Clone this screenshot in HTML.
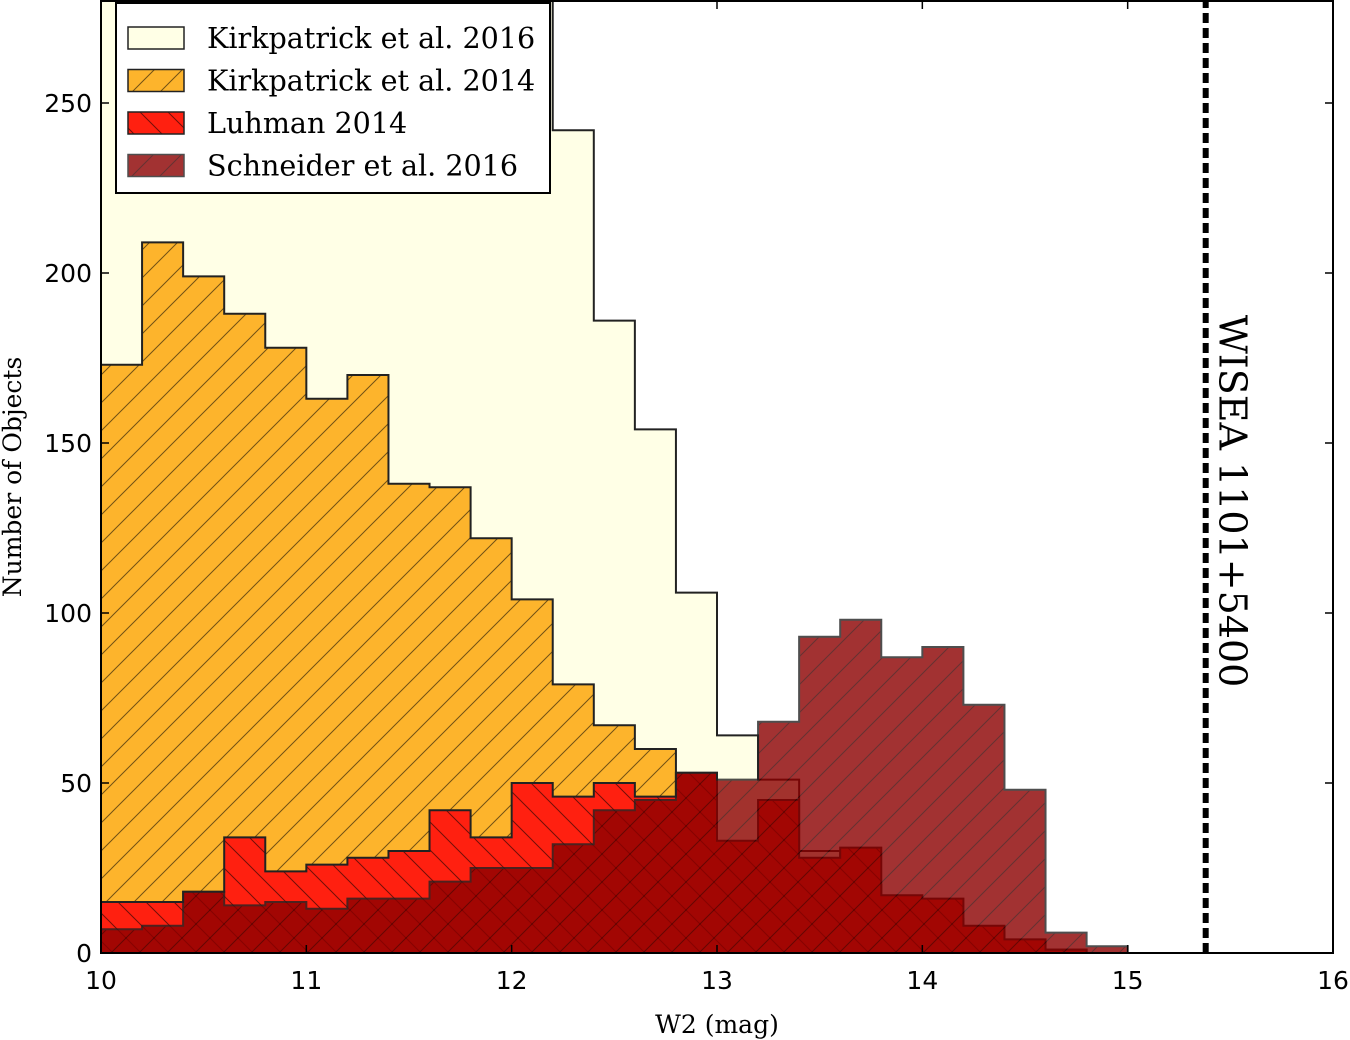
<!DOCTYPE html>
<html><head><meta charset="utf-8"><style>
html,body{margin:0;padding:0;background:#fff;}
svg{display:block;}
.tick{font-family:"DejaVu Sans","Liberation Sans",sans-serif;font-size:25px;fill:#000;}
.lab{font-family:"DejaVu Serif","Liberation Serif",serif;font-size:25px;fill:#000;}
</style></head><body>
<svg id="chart" width="1350" height="1040" xmlns="http://www.w3.org/2000/svg">
<defs>
<pattern id="hf" patternUnits="userSpaceOnUse" width="28" height="28"><path d="M-7,7 L7,-7 M0,28 L28,0 M21,35 L35,21" stroke="#000" stroke-opacity="0.55" stroke-width="1"/></pattern>
<pattern id="hb" patternUnits="userSpaceOnUse" width="28" height="28"><path d="M-7,21 L7,35 M0,0 L28,28 M21,-7 L35,7" stroke="#000" stroke-opacity="0.55" stroke-width="1"/></pattern>
<clipPath id="plotclip"><rect x="101" y="0" width="1232" height="953"/></clipPath>
</defs>
<g id="bars" clip-path="url(#plotclip)"></g>
<g id="axes"></g>
</svg>
<script>
const binStart = 10.0;
const binWidth = 0.2;
const kirk2016 = [400,400,400,400,400,400,400,400,400,400,400,242,186,154,106,64,51,30,20,15,10,6,3,1,0,0];
const kirk2014 = [173,209,199,188,178,163,170,138,137,122,104,79,67,60,45,30,20,12,8,4,2,1,0,0,0,0];
const luhman2014 = [15,15,18,34,24,26,28,30,42,34,50,46,50,46,53,33,45,28,31,17,16,8,4,1,0,0];
const schneider2016 = [7,8,18,14,15,13,16,16,21,25,25,32,42,45,53,51,68,93,98,87,90,73,48,6,2,0];
const xTicks = [10,11,12,13,14,15,16];
const yTicks = [0,50,100,150,200,250];
const wiseaMag = 15.38;

const X0=101,X1=1333,Y0=953,Y1=1;
const xMin=10,xMax=16,yMin=0,yMax=280;
function sx(v){return X0+(v-xMin)/(xMax-xMin)*(X1-X0);}
function sy(v){return Y0-(v-yMin)/(yMax-yMin)*(Y0-Y1);}
const NS="http://www.w3.org/2000/svg";
function mk(tag,attrs,parent){const e=document.createElementNS(NS,tag);for(const k in attrs)e.setAttribute(k,attrs[k]);parent.appendChild(e);return e;}
function stepPath(vals){
  let d="M"+sx(binStart)+","+sy(0);
  vals.forEach((v,i)=>{const a=sx(binStart+i*binWidth),b=sx(binStart+(i+1)*binWidth);d+=" L"+a+","+sy(v)+" L"+b+","+sy(v);});
  d+=" L"+sx(binStart+vals.length*binWidth)+","+sy(0)+" Z";return d;
}
const bars=document.getElementById('bars');
const series=[
 {v:kirk2016,fill:"#ffffe6",hatch:null,op:1,name:"kirkpatrick-2016-histogram"},
 {v:kirk2014,fill:"#fdb42c",hatch:"hf",op:1,name:"kirkpatrick-2014-histogram"},
 {v:luhman2014,fill:"#ff2010",hatch:"hb",op:1,name:"luhman-2014-histogram"},
 {v:schneider2016,fill:"#8b0000",hatch:"hf",op:0.8,name:"schneider-2016-histogram"}
];
series.forEach(s=>{
  const g=mk('g',{opacity:s.op},bars);
  
  
  const d=stepPath(s.v);
  mk('path',{d:d,fill:s.fill},g);
  if(s.hatch)mk('path',{d:d,fill:"url(#"+s.hatch+")"},g);
  mk('path',{d:d,fill:"none",stroke:"#222",'stroke-width':2},g);
});
const ax=document.getElementById('axes');
const wl=mk('line',{x1:sx(wiseaMag),x2:sx(wiseaMag),y1:Y0,y2:Y1,stroke:"#000",'stroke-width':6,'stroke-dasharray':"10,5"},ax);


const wt=mk('text',{x:0,y:0,class:"lab",'text-anchor':"middle",transform:"translate("+(sx(wiseaMag)+14)+",501) rotate(90)"},ax);
wt.style.fontSize="38px";
wt.textContent="WISEA 1101+5400";


const fr=mk('rect',{x:X0,y:Y1,width:X1-X0,height:Y0-Y1,fill:"none",stroke:"#000",'stroke-width':2},ax);


xTicks.forEach(t=>{
  const x=sx(t);
  mk('line',{x1:x,x2:x,y1:Y0,y2:Y0-8,stroke:"#000",'stroke-width':1.5},ax);
  mk('line',{x1:x,x2:x,y1:Y1,y2:Y1+8,stroke:"#000",'stroke-width':1.5},ax);
  const tx=mk('text',{x:x,y:Y0+36,class:"tick",'text-anchor':"middle"},ax);
  tx.textContent=t;
  
  
});
yTicks.forEach(t=>{
  const y=sy(t);
  mk('line',{x1:X0,x2:X0+8,y1:y,y2:y,stroke:"#000",'stroke-width':1.5},ax);
  mk('line',{x1:X1,x2:X1-8,y1:y,y2:y,stroke:"#000",'stroke-width':1.5},ax);
  const ty=mk('text',{x:X0-9,y:y+9,class:"tick",'text-anchor':"end"},ax);
  ty.textContent=t;
  
  
});
const xl=mk('text',{x:717,y:1033,class:"lab",'text-anchor':"middle"},ax);
xl.textContent="W2 (mag)";


const yl=mk('text',{x:0,y:0,class:"lab",'text-anchor':"middle",transform:"translate(21,477) rotate(-90)"},ax);
yl.textContent="Number of Objects";


const lg=mk('g',{},ax);


mk('rect',{x:116,y:3,width:434,height:190,fill:"#fff",stroke:"#000",'stroke-width':2},lg);
const labels=["Kirkpatrick et al. 2016","Kirkpatrick et al. 2014","Luhman 2014","Schneider et al. 2016"];
labels.forEach((l,i)=>{
  const y=27+i*42.5;
  const s=series[i];
  const eg=mk('g',{opacity:s.op},lg);
  
  
  mk('rect',{x:128,y:y,width:56,height:22,fill:s.fill},eg);
  if(s.hatch)mk('rect',{x:128,y:y,width:56,height:22,fill:"url(#"+s.hatch+")"},eg);
  mk('rect',{x:128,y:y,width:56,height:22,fill:"none",stroke:"#222",'stroke-width':1.5},eg);
  const t=mk('text',{x:207,y:y+21,class:"lab"},lg);
  t.style.fontSize="28.6px";
  t.textContent=l;
});
</script>
</body></html>
